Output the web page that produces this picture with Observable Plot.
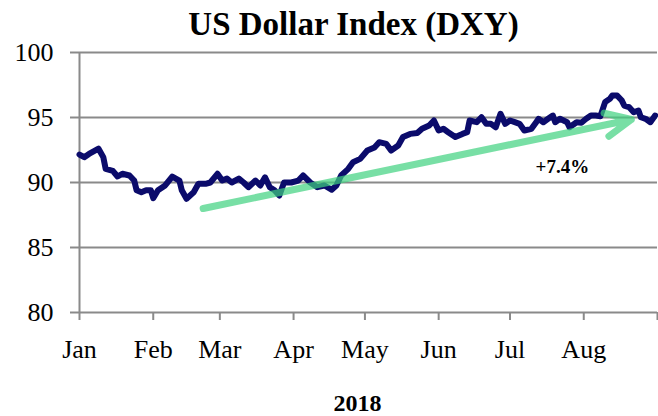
<!DOCTYPE html>
<html>
<head>
<meta charset="utf-8">
<script src="https://cdn.jsdelivr.net/npm/d3@7"></script>
<script src="https://cdn.jsdelivr.net/npm/@observablehq/plot@0.6"></script>
<style>
  html, body { margin: 0; padding: 0; background: #fff; }
</style>
</head>
<body>
<div id="chart"></div>
<script>
// ---- data ----
const titleText = "US Dollar Index (DXY)";
const xTitle = "2018";
const yTicks = [80, 85, 90, 95, 100];
const monthTicks = ["2018-01-01","2018-02-01","2018-03-01","2018-04-01","2018-05-01","2018-06-01","2018-07-01","2018-08-01","2018-09-01"];
const monthLabels = ["Jan","Feb","Mar","Apr","May","Jun","Jul","Aug",""];

const dates = ["2018-01-01","2018-01-03","2018-01-05","2018-01-09","2018-01-11","2018-01-12","2018-01-15","2018-01-17","2018-01-19","2018-01-22","2018-01-24","2018-01-25","2018-01-27","2018-01-29","2018-01-31","2018-02-01","2018-02-03","2018-02-06","2018-02-09","2018-02-12","2018-02-13","2018-02-15","2018-02-18","2018-02-20","2018-02-23","2018-02-25","2018-02-28","2018-03-02","2018-03-04","2018-03-06","2018-03-09","2018-03-11","2018-03-13","2018-03-16","2018-03-18","2018-03-20","2018-03-22","2018-03-24","2018-03-26","2018-03-28","2018-03-31","2018-04-03","2018-04-05","2018-04-08","2018-04-11","2018-04-14","2018-04-17","2018-04-19","2018-04-21","2018-04-24","2018-04-26","2018-04-29","2018-05-02","2018-05-05","2018-05-07","2018-05-10","2018-05-12","2018-05-15","2018-05-17","2018-05-20","2018-05-23","2018-05-25","2018-05-28","2018-05-30","2018-06-01","2018-06-03","2018-06-05","2018-06-08","2018-06-11","2018-06-13","2018-06-14","2018-06-17","2018-06-19","2018-06-21","2018-06-23","2018-06-25","2018-06-27","2018-06-29","2018-07-01","2018-07-03","2018-07-05","2018-07-07","2018-07-10","2018-07-12","2018-07-13","2018-07-15","2018-07-17","2018-07-19","2018-07-20","2018-07-22","2018-07-25","2018-07-26","2018-07-29","2018-07-31","2018-08-02","2018-08-04","2018-08-06","2018-08-08","2018-08-10","2018-08-12","2018-08-13","2018-08-15","2018-08-17","2018-08-18","2018-08-20","2018-08-22","2018-08-24","2018-08-25","2018-08-27","2018-08-29","2018-08-31"];

const values = [92.15,91.95,92.2,92.6,91.95,91.05,90.9,90.46,90.67,90.54,90.15,89.4,89.25,89.4,89.4,88.8,89.4,89.77,90.46,90.15,89.4,88.75,89.25,89.9,89.9,90.0,90.67,90.15,90.3,90.0,90.3,90.0,89.64,90.15,89.77,90.4,89.64,89.4,89.0,90.0,90.0,90.15,90.54,90.0,89.64,89.77,89.44,89.77,90.54,91.05,91.56,91.82,92.46,92.7,93.1,92.97,92.46,92.85,93.5,93.74,93.8,94.13,94.38,94.77,94.0,94.13,93.87,93.5,93.74,93.87,94.77,94.64,95.02,94.51,94.51,94.25,95.28,94.51,94.77,94.64,94.51,94.0,94.13,94.64,94.9,94.64,94.9,95.15,94.64,94.9,94.64,94.25,94.64,94.6,94.9,95.15,95.15,95.1,96.2,96.44,96.7,96.7,96.3,95.92,95.8,95.4,95.54,95.02,94.9,94.64,95.15];

const trendStart = {date: "2018-02-22", value: 88.0};
const trendEnd = {date: "2018-08-21", value: 94.85};
const trendLabel = {date: "2018-07-23", value: 91.2, text: "+7.4%"};

// ---- build ----
const parse = d3.utcParse("%Y-%m-%d");
const data = dates.map((d, i) => ({date: parse(d), value: values[i]}));
const ticks = monthTicks.map(parse);
const labelOf = new Map(ticks.map((t, i) => [+t, monthLabels[i]]));
const gray = "#8a8a8a";
const font = "'Liberation Serif', 'Times New Roman', serif";

const chart = Plot.plot({
  width: 658,
  height: 416,
  marginLeft: 79,
  marginRight: 1,
  marginTop: 52,
  marginBottom: 104,
  style: {fontFamily: font, fontSize: "26px", color: "#000", background: "#fff", overflow: "visible"},
  x: {type: "utc", domain: [ticks[0], ticks[ticks.length - 1]]},
  y: {domain: [80, 100]},
  marks: [
    Plot.ruleY(yTicks, {stroke: gray, strokeWidth: 2}),
    Plot.ruleX([ticks[0]], {stroke: gray, strokeWidth: 2}),
    Plot.axisY({ticks: yTicks, tickSize: 9, tickPadding: 17, stroke: gray, strokeWidth: 2, fill: "#000", fontSize: 26, label: null}),
    Plot.axisX({ticks: ticks, tickSize: 8, tickPadding: 19, stroke: gray, strokeWidth: 2, fill: "#000", fontSize: 26, label: null,
      tickFormat: d => labelOf.get(+d) ?? ""}),
    Plot.line(data, {x: "date", y: "value", stroke: "#0b0b6b", strokeWidth: 6, strokeLinejoin: "round", strokeLinecap: "round"}),
    Plot.arrow([{x1: parse(trendStart.date), y1: trendStart.value, x2: parse(trendEnd.date), y2: trendEnd.value}],
      {x1: "x1", y1: "y1", x2: "x2", y2: "y2", stroke: "#3fd27f", strokeOpacity: 0.7, strokeWidth: 7, headLength: 6, headAngle: 50}),
    Plot.text([trendLabel], {x: d => parse(d.date), y: "value", text: "text", fontWeight: "bold", fontSize: 19, fill: "#000"}),
    Plot.text([titleText], {frameAnchor: "top", dy: -41, dx: -15, fontSize: 33, fontWeight: "bold", fill: "#000"}),
    Plot.text([xTitle], {frameAnchor: "bottom", lineAnchor: "middle", dy: 91, dx: -11, fontSize: 24, fontWeight: "bold", fill: "#000"})
  ]
});
document.getElementById("chart").appendChild(chart);
</script>
</body>
</html>
